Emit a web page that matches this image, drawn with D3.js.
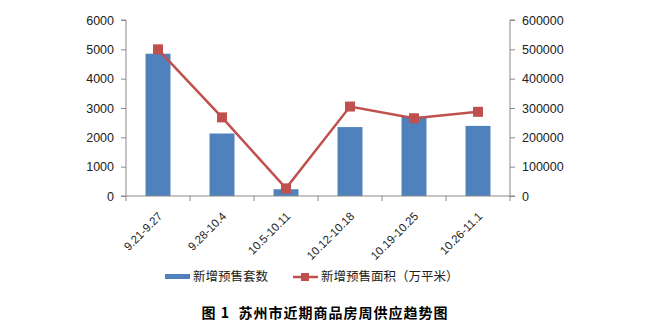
<!DOCTYPE html>
<html><head><meta charset="utf-8">
<script src="https://cdn.jsdelivr.net/npm/d3@7"></script>
<style>body{margin:0;background:#fff}svg{display:block}</style>
</head><body>
<svg id="c" width="650" height="330"></svg>
<script>
const categories = ["9.21-9.27","9.28-10.4","10.5-10.11","10.12-10.18","10.19-10.25","10.26-11.1"];
const units = [4850, 2130, 230, 2350, 2700, 2390];
const area = [500000, 268000, 26000, 305000, 265000, 287000];
const leftTicks = [0,1000,2000,3000,4000,5000,6000];
const rightTicks = [0,100000,200000,300000,400000,500000,600000];
const seriesNames = ["新增预售套数","新增预售面积（万平米）"];
const title = "图 1  苏州市近期商品房周供应趋势图";

(function(){
const svg = d3.select("#c");
const font = "'Liberation Sans', 'Noto Sans CJK SC', sans-serif";
const cjk = "'Noto Sans CJK SC', sans-serif";
const pL = 126, pR = 510, pT = 20, pB = 196;
const blue = "#4F81BD", red = "#C0504D", axisCol = "#898989";

const x = d3.scaleBand().domain(categories).range([pL, pR]).paddingInner(0.61).paddingOuter(0.305);
const xb = d3.scaleBand().domain(categories).range([pL, pR]);
const yL = d3.scaleLinear().domain([0,6000]).range([pB, pT]);
const yR = d3.scaleLinear().domain([0,600000]).range([pB, pT]);

svg.append("g").selectAll("rect").data(units).join("rect")
  .attr("x", (d,i)=>x(categories[i])).attr("width", x.bandwidth())
  .attr("y", d=>yL(d)).attr("height", d=>pB - yL(d)).attr("fill", blue);

const gL = svg.append("g").attr("transform",`translate(${pL},0)`)
  .call(d3.axisLeft(yL).tickValues(leftTicks).tickSize(5).tickPadding(7).tickFormat(d3.format("d")));
const gR = svg.append("g").attr("transform",`translate(${pR},0)`)
  .call(d3.axisRight(yR).tickValues(rightTicks).tickSize(5).tickPadding(7).tickFormat(d3.format("d")));
[gL,gR].forEach(g=>{
  g.select(".domain").attr("stroke",axisCol);
  g.selectAll(".tick line").attr("stroke",axisCol);
  g.selectAll("text").attr("fill","#222").style("font-family",font).style("font-size","12.5px");
});
gL.select(".domain").attr("d",`M-5,${pT}H0V${pB}H-5`);
gR.select(".domain").attr("d",`M5,${pT}H0V${pB}H5`);

const gB = svg.append("g");
gB.append("line").attr("x1",pL).attr("x2",pR).attr("y1",pB).attr("y2",pB).attr("stroke",axisCol);
const bounds = categories.map(c=>xb(c)).concat([pR]);
gB.selectAll("line.t").data(bounds).join("line").attr("class","t")
  .attr("x1",d=>d).attr("x2",d=>d).attr("y1",pB).attr("y2",pB+5).attr("stroke",axisCol);
gB.selectAll("text").data(categories).join("text")
  .attr("transform", d=>`translate(${xb(d)+xb.bandwidth()/2+5},${pB+21}) rotate(-45)`)
  .attr("text-anchor","end")
  .style("font-family",font).style("font-size","11.5px").attr("fill","#222").text(d=>d);

const line = d3.line().x((d,i)=>xb(categories[i])+xb.bandwidth()/2).y(d=>yR(d));
svg.append("path").datum(area).attr("d",line).attr("fill","none").attr("stroke",red).attr("stroke-width",2.5);
svg.append("g").selectAll("rect").data(area).join("rect")
  .attr("x",(d,i)=>xb(categories[i])+xb.bandwidth()/2-5).attr("y",d=>yR(d)-5)
  .attr("width",10).attr("height",10).attr("fill",red);

const lg = svg.append("g");
lg.append("rect").attr("x",165).attr("y",274).attr("width",25).attr("height",5).attr("fill",blue);
lg.append("text").attr("x",193).attr("y",277).attr("dy","0.35em").style("font-family",cjk).style("font-size","12.5px").attr("fill","#222").text(seriesNames[0]);
lg.append("line").attr("x1",293).attr("x2",318).attr("y1",277).attr("y2",277).attr("stroke",red).attr("stroke-width",2.5);
lg.append("rect").attr("x",301).attr("y",273).attr("width",8).attr("height",8).attr("fill",red);
lg.append("text").attr("x",321).attr("y",277).attr("dy","0.35em").style("font-family",cjk).style("font-size","12.5px").attr("fill","#222").text(seriesNames[1]);

svg.append("text").attr("x",325).attr("y",313).attr("dy","0.35em").attr("text-anchor","middle")
  .style("font-family",cjk).style("font-size","14px").style("font-weight","bold").style("letter-spacing","1px").attr("fill","#000").style("white-space","pre").text(title);
})();
</script>
</body></html>
